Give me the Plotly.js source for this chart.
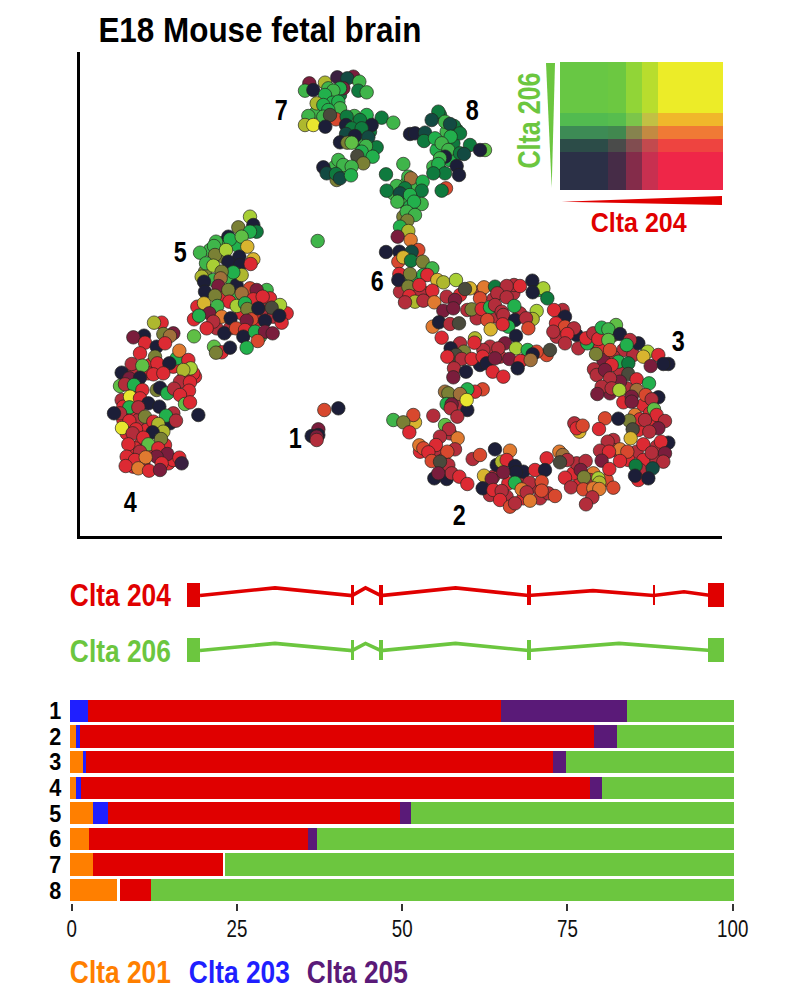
<!DOCTYPE html>
<html><head><meta charset="utf-8">
<script src="https://cdn.plot.ly/plotly-3.0.1.min.js"></script>
<style>html,body{margin:0;padding:0;background:#fff}</style></head>
<body><div id="chart" style="width:800px;height:999px"></div>
<script>
// ---- transcript usage (%) ----
const clusters = ["1","2","3","4","5","6","7","8"];
const clta201 = [0,0.93,1.9,0.93,3.5,2.8,3.5,7.1];
const gapA    = [0,0,0,0,0,0,0,0.45];
const clta203 = [2.7,0.5,0.5,0.67,2.15,0,0,0];
const clta204 = [62.2,77.5,70.3,76.7,44.05,33.1,19.6,4.65];
const clta205 = [19,3.5,2,1.8,1.6,1.3,0,0];
const gapB    = [0,0,0,0,0,0,0.3,0];
const clta206 = [16.1,17.57,25.3,19.9,48.7,62.8,76.6,87.8];
const barTicks = [0,25,50,75,100];

// ---- UMAP-like cell embedding, [x, y, colour key], read per region ----
const palette = {k:"#1c1e38",r:"#dc2a33",m:"#7a1d3c",c:"#b32d3b",G:"#22b04c",g:"#3fb54a",L:"#5fbf45",
  d:"#0f7a3e",t:"#134a42",o:"#7a8035",l:"#a8cf35",y:"#e8e62f",O:"#e07a30",R:"#d8482e",s:"#d8b42f",
  b:"#a0703a",n:"#4a4a3c",v:"#aeb82e",p:"#3a2040"};
const northUnder = [[215,110,"G"],[240,105,"d"],[200,125,"G"],[170,155,"g"],[280,185,"d"],[290,245,"d"],[300,235,"g"],[330,215,"d"],[320,180,"d"],[255,335,"g"],[225,320,"g"],[300,300,"d"],[330,270,"d"],[540,165,"d"],[590,210,"d"],[560,215,"g"],[530,270,"G"],[580,250,"d"],[520,320,"g"],[570,300,"G"],[540,330,"G"],[440,370,"g"],[470,385,"g"],[425,410,"g"],[400,400,"g"],[440,435,"g"],[430,470,"o"],[450,440,"G"]];
const north = [
[148,70,"m"],[195,68,"v"],[232,52,"p"],[280,50,"m"],[262,55,"t"],[298,65,"g"],[135,92,"g"],[250,85,"m"],[160,90,"k"],[240,85,"G"],[205,85,"g"],[220,92,"g"],[295,92,"d"],[320,97,"g"],[195,105,"G"],[170,130,"v"],[218,128,"G"],[235,125,"G"],[190,135,"G"],[240,145,"g"],[205,150,"G"],[145,168,"g"],[228,178,"R"],[190,170,"g"],[210,165,"n"],[135,195,"v"],[160,195,"y"],[196,200,"k"],
[283,168,"g"],[260,170,"d"],[320,165,"G"],[300,180,"d"],[365,173,"d"],[400,188,"g"],[258,195,"k"],[335,195,"k"],[275,205,"d"],[305,205,"d"],[258,222,"t"],[285,228,"k"],[325,232,"t"],[240,247,"k"],[262,248,"o"],[275,248,"L"],[350,262,"d"],[318,258,"g"],[305,275,"G"],[292,288,"n"],[338,290,"G"],[235,300,"g"],[310,310,"o"],[250,315,"g"],[275,320,"g"],[190,322,"k"],[200,340,"t"],[230,360,"o"],[228,342,"d"],[240,355,"t"],[273,346,"G"],
[535,155,"d"],[515,180,"t"],[582,198,"d"],[555,185,"g"],[570,192,"t"],[450,222,"k"],[465,220,"k"],[495,218,"t"],[600,220,"d"],[492,243,"d"],[525,235,"G"],[572,230,"G"],[545,250,"g"],[630,255,"d"],[565,270,"g"],[675,270,"L"],[660,270,"k"],[600,280,"d"],[612,282,"t"],[555,290,"k"],[540,295,"g"],[535,312,"G"],[590,318,"k"],[597,345,"k"],[555,340,"d"],[520,340,"d"],
[430,312,"g"],[378,343,"d"],[445,350,"g"],[453,355,"b"],[488,365,"G"],[410,378,"g"],[380,392,"d"],[435,385,"d"],[420,400,"t"],[485,392,"d"],[558,385,"R"],[545,392,"d"],[485,432,"g"],[412,425,"g"],[450,405,"G"],[462,425,"G"],[440,455,"g"],[465,465,"g"],[442,482,"o"],[420,500,"G"],[445,513,"v"],[413,530,"m"],[452,540,"O"],[378,576,"k"],[418,575,"k"],[475,570,"R"],[455,575,"t"],[415,605,"R"],[430,592,"s"],[453,602,"d"],[488,605,"o"],[517,625,"g"],
[173,543,"g"]
];
const westUnder = [[360,150,"g"],[395,130,"g"],[440,135,"G"],[400,170,"o"],[345,215,"o"],[370,240,"g"],[425,240,"g"],[440,255,"k"],[400,285,"r"],[430,295,"g"],[350,330,"c"],[380,385,"c"],[420,385,"c"],[455,340,"r"],[520,330,"c"],[550,350,"c"],[590,340,"r"],[510,410,"g"],[530,270,"g"],
[180,495,"r"],[175,520,"r"],[250,500,"r"],[125,520,"c"],[280,535,"r"],[315,530,"r"],[130,580,"r"],[95,600,"c"],[100,620,"r"],[130,645,"r"],[145,660,"c"],[250,640,"c"],[240,670,"k"],[100,660,"r"],[110,700,"r"],[170,690,"r"],[150,735,"r"],[225,735,"r"],[135,745,"r"],[235,790,"r"],[130,800,"r"],[160,790,"c"],[185,760,"c"],[250,780,"r"]];
const west = [
[480,50,"l"],[445,82,"o"],[490,75,"k"],[500,95,"d"],[480,95,"G"],[415,110,"k"],[420,118,"G"],[455,110,"L"],[378,125,"g"],[372,138,"g"],[330,158,"g"],[375,165,"o"],[408,150,"l"],[472,140,"s"],[490,178,"s"],[348,190,"g"],[448,170,"k"],[415,185,"k"],[450,195,"k"],[482,192,"r"],[370,197,"l"],[455,225,"v"],[430,217,"G"],[335,230,"v"],[395,215,"o"],[392,235,"b"],[342,245,"k"],[345,275,"k"],[385,258,"m"],[375,287,"o"],[415,270,"o"],[480,265,"R"],[455,280,"b"],[500,270,"m"],[490,298,"r"],[540,295,"r"],[518,290,"r"],[418,305,"r"],[440,318,"l"],[465,310,"G"],[472,327,"o"],[322,320,"r"],[342,310,"s"],[382,318,"g"],[358,340,"m"],[312,358,"r"],[327,347,"G"],[395,350,"O"],[422,355,"k"],[370,365,"c"],[350,385,"r"],[500,360,"r"],[485,358,"R"],[505,325,"k"],[570,315,"l"],[545,323,"n"],[470,362,"m"],[525,362,"k"],[575,368,"r"],[568,347,"k"],[403,400,"k"],[438,385,"R"],[465,390,"r"],[460,410,"k"],[495,395,"G"],[525,395,"m"],[548,400,"m"],[503,423,"R"],[312,409,"L"],[372,440,"L"],[395,457,"r"],[378,458,"o"],[420,443,"k"],[470,443,"G"],
[215,368,"r"],[192,368,"v"],[250,400,"m"],[220,402,"o"],[240,408,"b"],[162,407,"k"],[130,412,"m"],[165,428,"r"],[200,440,"k"],[225,430,"r"],[150,460,"r"],[195,470,"o"],[260,475,"G"],[268,452,"O"],[295,480,"r"],[125,492,"c"],[157,497,"L"],[202,490,"r"],[238,490,"k"],[190,523,"r"],[220,520,"r"],[95,518,"k"],[118,535,"m"],[150,533,"k"],[90,558,"L"],[105,553,"c"],[132,555,"G"],[310,520,"r"],[302,505,"l"],[280,510,"v"],[270,545,"c"],[300,547,"r"],[200,570,"o"],[210,563,"k"],[232,580,"G"],[252,566,"c"],[297,572,"r"],[270,585,"r"],[157,570,"r"],[120,590,"y"],[150,595,"r"],[118,622,"G"],[175,610,"k"],[145,622,"c"],[285,612,"L"],[300,607,"r"],[208,620,"k"],[90,640,"c"],[72,640,"k"],[228,647,"G"],[325,645,"k"],[165,650,"o"],[118,663,"r"],[190,665,"r"],[258,662,"c"],[205,672,"v"],[220,695,"v"],[96,684,"y"],[138,688,"r"],[128,700,"c"],[188,697,"k"],[160,713,"r"],[213,717,"o"],[175,733,"L"],[115,733,"r"],[205,745,"r"],[150,755,"c"],[232,762,"m"],[200,770,"m"],[110,770,"r"],[268,773,"r"],[275,790,"p"],[135,780,"r"],[167,772,"O"],[107,798,"r"],[145,805,"O"],[215,790,"r"],[177,812,"r"],[210,810,"m"],
[703,630,"R"],[745,625,"k"],[685,688,"m"],[665,708,"k"],[685,705,"k"],[680,710,"m"],[680,720,"c"]
];
const ringUnder = [[640,250,"c"],[660,265,"r"],[700,225,"n"],[730,270,"c"],[760,285,"c"],[700,290,"c"],[670,300,"m"],[720,330,"c"],[690,400,"m"],[740,385,"c"],[790,435,"r"],[765,465,"O"],[810,460,"r"],[820,490,"r"],[775,510,"r"],[700,540,"c"],[770,575,"c"],[830,560,"c"],[745,600,"r"],[790,600,"r"],[700,570,"c"],[830,600,"c"],[780,630,"c"],[640,640,"O"],[600,670,"r"],[630,660,"c"],[680,660,"R"],[580,640,"r"],[590,610,"c"],[340,650,"c"],[385,670,"r"],[420,660,"c"],[465,680,"c"],[430,715,"r"],[380,710,"c"],[330,705,"c"],[480,715,"c"],[350,615,"k"],[170,580,"c"],[120,575,"r"],[190,600,"r"],[185,630,"c"],[210,520,"c"],[235,430,"c"],[210,415,"n"],[240,105,"r"],[300,95,"c"],[340,118,"c"],[400,100,"c"],[350,170,"c"],[290,175,"c"],[200,110,"c"],[420,160,"c"],[330,260,"c"],[310,270,"c"],[240,250,"c"],[225,300,"c"],[300,315,"k"],[440,295,"c"],[500,285,"R"],[360,290,"c"],[530,230,"c"],[540,185,"c"],[590,225,"k"],[60,95,"c"],[110,105,"c"],[140,100,"R"],[95,60,"G"],[120,100,"c"]];
const ring = [
[58,42,"r"],[90,42,"o"],[130,45,"G"],[142,45,"r"],[172,60,"s"],[190,67,"v"],[228,60,"l"],[55,60,"k"],[85,80,"o"],[118,75,"r"],[157,92,"r"],[88,108,"r"],[105,125,"v"],[75,127,"c"],[130,122,"c"],[163,127,"O"],
[270,85,"s"],[255,87,"n"],[312,82,"O"],[345,80,"d"],[402,75,"c"],[380,78,"c"],[420,78,"r"],[475,90,"G"],[490,85,"l"],[457,62,"k"],[458,97,"k"],[502,115,"d"],[300,115,"R"],[352,100,"c"],[380,112,"c"],[403,138,"G"],[225,120,"m"],[190,152,"m"],[220,145,"m"],[262,150,"c"],[275,148,"o"],[305,147,"r"],[330,142,"G"],[345,135,"c"],[365,155,"c"],[370,165,"c"],[470,153,"l"],[458,177,"v"],[405,180,"k"],[438,175,"c"],[445,205,"R"],[322,180,"R"],[332,208,"s"],[385,200,"G"],[368,193,"r"],[158,200,"O"],[177,187,"k"],[210,192,"c"],[237,190,"n"],
[548,150,"c"],[522,150,"r"],[555,170,"k"],[528,190,"r"],[555,200,"R"],[520,215,"c"],[582,205,"c"],[562,222,"r"],[408,228,"k"],[285,235,"v"],[283,248,"r"],[375,250,"m"],[355,265,"c"],[408,265,"l"],[443,270,"G"],[470,275,"R"],[458,283,"k"],[510,270,"n"],[185,233,"r"],[212,265,"k"],[252,275,"o"],[228,285,"n"],[202,290,"r"],[245,297,"c"],[275,297,"r"],[308,290,"r"],[320,310,"k"],[345,295,"m"],[388,297,"m"],[422,303,"r"],[452,300,"b"],[413,325,"k"],[222,325,"c"],[258,335,"k"],[220,352,"m"],[338,335,"r"],[370,350,"r"],
[555,250,"c"],[595,265,"c"],[622,250,"G"],[618,235,"r"],[640,220,"c"],[655,237,"r"],[708,195,"L"],[665,203,"G"],[685,208,"g"],[720,222,"k"],[685,240,"L"],[648,282,"o"],[690,270,"R"],[775,250,"k"],[750,240,"c"],[740,255,"G"],[803,275,"l"],[790,290,"s"],[835,285,"r"],[865,312,"k"],[850,312,"k"],[812,318,"m"],[642,328,"c"],[650,345,"c"],[715,305,"G"],[745,310,"d"],[695,315,"r"],[675,330,"m"],[745,342,"n"],[720,365,"m"],[770,358,"r"],[690,355,"c"],[665,380,"c"],[652,402,"m"],[695,385,"c"],[770,390,"b"],[718,390,"l"],[807,370,"G"],[797,405,"R"],[835,412,"k"],[815,418,"c"],[730,427,"r"],[755,410,"m"],[755,425,"m"],
[822,448,"L"],[830,465,"r"],[780,478,"r"],[795,480,"c"],[855,483,"c"],[748,482,"o"],[675,475,"R"],[715,476,"k"],[835,505,"m"],[657,507,"r"],[758,508,"n"],[808,515,"c"],[752,535,"s"],[683,545,"c"],[865,548,"k"],[843,545,"r"],[790,553,"r"],[720,568,"O"],[742,575,"R"],[660,572,"c"],[687,575,"r"],[815,578,"c"],[855,580,"m"],[720,603,"r"],[850,605,"c"],[767,617,"d"],[818,625,"t"],[775,660,"r"],[765,647,"k"],[805,655,"k"],
[583,490,"c"],[598,515,"s"],[590,505,"r"],[608,497,"R"],
[538,575,"O"],[548,585,"b"],[562,600,"c"],[540,607,"n"],[617,603,"c"],[602,630,"m"],[612,652,"o"],[665,602,"m"],[688,627,"r"],[555,653,"r"],[573,682,"c"],[610,688,"R"],[655,655,"l"],[658,668,"v"],[640,685,"O"],[700,683,"R"],[658,687,"O"],[637,712,"c"],[618,733,"c"],
[390,572,"O"],[345,568,"k"],[365,605,"v"],[380,600,"r"],[500,595,"r"],[278,597,"c"],[300,585,"R"],[405,618,"k"],[430,635,"k"],[408,637,"k"],[465,630,"r"],[495,630,"k"],[312,647,"s"],[335,657,"m"],[370,637,"m"],[405,668,"G"],[448,668,"c"],[485,665,"R"],[425,688,"O"],[440,697,"c"],[505,700,"c"],[525,708,"R"],[485,692,"R"],[308,685,"k"],[340,690,"r"],[365,693,"c"],[360,720,"r"],[450,722,"O"],[390,740,"R"],[405,730,"c"],
[308,388,"R"],[285,395,"r"],[262,388,"G"],[195,395,"b"],[205,400,"o"],[240,402,"b"],[262,450,"k"],[260,420,"y"],[200,432,"G"],[215,433,"m"],[160,467,"c"],[212,445,"c"],[232,470,"c"],[40,480,"g"],[105,487,"s"],[100,465,"R"],[70,487,"o"],[88,517,"r"],[195,495,"L"],[207,507,"c"],[233,535,"O"],[180,530,"c"],[118,556,"O"],[130,565,"R"],[168,555,"r"],[145,577,"r"],[225,568,"c"],[202,575,"R"],[155,603,"R"],[205,615,"c"],[180,605,"n"],[163,655,"k"],[200,657,"k"],[215,640,"c"],[175,640,"m"],[238,650,"r"],[262,672,"r"]
];
// region crop origins (embedding units) and crop magnification of the reading
const northOrigin = [260,60], westOrigin = [90,200], ringOrigin = [380,260];
const readScale = 3;
const clusterNames = ["7","8","5","6","3","1","4","2"];
const clusterX = [281,472,180,377,678,295,130,459];
const clusterY = [110,110,252,280,340,437,501,514];

// ---- colour key (Clta 204 across, Clta 206 up) ----
const keyX = [560,608,626,642,658,723];
const keyY = [62,113,126,139,152,190];
const keyColours = [
 ["#68c744","#6cc841","#91d537","#b8dd2e","#ecec28"],
 ["#52bb50","#57bd4e","#7cc54a","#c2c044","#f0b72b"],
 ["#3d8b55","#41884f","#86834e","#c38a42","#f07a35"],
 ["#2c4c48","#4a4b4a","#814d50","#c24a4e","#ee4440"],
 ["#2b3047","#462c47","#842c4a","#c83050","#ef2648"]];

// ---- gene models ----
const intronX204 = [200,275,352,365.5,381,455.5,528.5,593,653.5,684,711];
const intronY204 = [0,0.14,0,0.14,0,0.14,0,0.09,0,0.07,0];
const exonStart204 = [186.7,350.5,378.5,527,652.5,708];
const exonEnd204   = [200,353.5,383,530.5,655,724];
const intronX206 = [200,275,352,365.5,381,455.5,528.5,619,711];
const intronY206 = [0,0.13,0,0.13,0,0.13,0,0.13,0];
const exonStart206 = [186.7,350.5,378.5,527,708];
const exonEnd206   = [200,353.5,383,530.5,724];

const RED="#e00000", GREEN="#6cc63f", ORANGE="#ff7f00", BLUE="#1f1fff", PURPLE="#5a1a78";
const FONT="'Liberation Sans',Arial,sans-serif";
const W=800,H=999;
const px=v=>v/W, py=v=>1-v/H;

const place=(list,o)=>list.map(p=>[o[0]+p[0]/readScale,o[1]+p[1]/readScale,p[2]]);
const allPts=[...place(northUnder,northOrigin),...place(north,northOrigin),
 ...place(westUnder,westOrigin),...place(west,westOrigin),
 ...place(ringUnder,ringOrigin),...place(ring,ringOrigin)];

const flat=keyColours.flat();
const scale=[];flat.forEach((c,i)=>{scale.push([i/flat.length,c]);scale.push([(i+1)/flat.length,c]);});
const keyZ=keyColours.map((row,r)=>row.map((_,c)=>r*row.length+c+0.5));

function bar(name,vals,color){return {type:"bar",orientation:"h",name,x:vals,y:clusters,xaxis:"x2",yaxis:"y2",
  marker:{color,line:{width:0}},hoverinfo:"x+name",showlegend:false};}
function exons(a,b,lane,color){return {type:"bar",xaxis:"x3",yaxis:"y3",showlegend:false,
  x:a.map((s,i)=>(s+b[i])/2),width:a.map((s,i)=>b[i]-s),
  y:a.map((s,i)=>((b[i]-s)>8?0.436:0.36)),
  base:a.map((s,i)=>lane+((b[i]-s)>8?-0.218:-0.18)),
  marker:{color,line:{width:0}}};}
function intron(x,y,lane,color){return {type:"scatter",mode:"lines",xaxis:"x3",yaxis:"y3",showlegend:false,
  x,y:y.map(v=>lane+v-0.01),line:{color,width:3.6}};}

const data=[
 {type:"scatter",mode:"markers",x:allPts.map(p=>p[0]),y:allPts.map(p=>p[1]),cliponaxis:false,showlegend:false,
  marker:{size:13.5,color:allPts.map(p=>palette[p[2]]),line:{color:"rgba(35,35,30,0.85)",width:0.8}}},
 {type:"heatmap",x:keyX,y:keyY,z:keyZ,xaxis:"x4",yaxis:"y4",colorscale:scale,zmin:0,zmax:flat.length,showscale:false,zsmooth:false},
 bar("Clta 201",clta201,ORANGE),bar("",gapA,"#fff"),bar("Clta 203",clta203,BLUE),bar("Clta 204",clta204,RED),
 bar("Clta 205",clta205,PURPLE),bar("",gapB,"#fff"),bar("Clta 206",clta206,GREEN),
 intron(intronX204,intronY204,1,RED),exons(exonStart204,exonEnd204,1,RED),
 intron(intronX206,intronY206,0,GREEN),exons(exonStart206,exonEnd206,0,GREEN)
];

const squeezeWidths=[];
function note(text,x,y,size,color,angle,wid){squeezeWidths.push(wid);return {text,xref:"paper",yref:"paper",x:px(x),y:py(y),
  xanchor:"center",yanchor:"middle",showarrow:false,textangle:angle||0,borderpad:0,font:{family:FONT,size,color,weight:700}};}
const annotations=[
 note("E18 Mouse fetal brain",259.5,30,35,"#000",0,323),
 note("Clta 206",529,121,31,GREEN,-90,96),
 note("Clta 204",639,223,28,RED,0,96),
 note("Clta 204",120,594.5,32,RED,0,101),
 note("Clta 206",120,651,32,GREEN,0,101),
 note("Clta 201",120.5,972,32,ORANGE,0,101),
 note("Clta 203",239.5,972,32,BLUE,0,101),
 note("Clta 205",357.5,972,32,PURPLE,0,101),
 ...clusterNames.map((n,i)=>note(n,clusterX[i],clusterY[i],30,"#000",0,13))
];
const shapes=[
 {type:"path",xref:"paper",yref:"paper",line:{width:0},fillcolor:GREEN,
  path:`M ${px(546)} ${py(63)} L ${px(555)} ${py(63)} L ${px(551.7)} ${py(188)} Z`},
 {type:"path",xref:"paper",yref:"paper",line:{width:0},fillcolor:RED,
  path:`M ${px(561.7)} ${py(201.7)} L ${px(722)} ${py(196)} L ${px(722)} ${py(205)} Z`}
];
const hidden={visible:false,showgrid:false,zeroline:false,fixedrange:true};
const layout={
 width:W,height:H,margin:{l:0,r:0,t:0,b:0},paper_bgcolor:"#fff",plot_bgcolor:"rgba(0,0,0,0)",
 barmode:"stack",bargap:0.13,annotations,shapes,showlegend:false,
 xaxis:{domain:[px(79.5),px(722)],range:[79.5,722],anchor:"y",showline:true,linecolor:"#000",linewidth:2.6,showticklabels:false,ticks:"",showgrid:false,zeroline:false},
 yaxis:{domain:[py(536),py(52)],range:[536,52],anchor:"x",showline:true,linecolor:"#000",linewidth:2.6,showticklabels:false,ticks:"",showgrid:false,zeroline:false},
 xaxis2:{domain:[px(70),px(735)],range:[0,100.15],anchor:"y2",tickvals:barTicks.map(v=>0.25+v*0.9955),ticktext:barTicks.map(String),ticks:"outside",ticklen:7,tickwidth:2,tickcolor:"#333",ticklabelstandoff:-3,
   showline:false,showgrid:false,zeroline:false,tickfont:{family:FONT,size:24,color:"#111"}},
 yaxis2:{domain:[py(903),py(698)],anchor:"x2",type:"category",categoryorder:"array",categoryarray:clusters,autorange:"reversed",dtick:1,
   showline:false,ticks:"outside",ticklen:3,tickcolor:"rgba(0,0,0,0)",showgrid:false,zeroline:false,tickfont:{family:FONT,size:24,color:"#000",weight:700}},
 xaxis3:Object.assign({domain:[0,1],range:[0,800],anchor:"y3"},hidden),
 yaxis3:Object.assign({domain:[py(677.5),py(567.5)],range:[-0.5,1.5],anchor:"x3"},hidden),
 xaxis4:Object.assign({domain:[px(560),px(723)],range:[560,723],anchor:"y4"},hidden),
 yaxis4:Object.assign({domain:[py(190),py(62)],range:[190,62],anchor:"x4"},hidden)
};
function condense(node,width){node.setAttribute("textLength",width);node.setAttribute("lengthAdjust","spacingAndGlyphs");}
Plotly.newPlot("chart",data,layout,{staticPlot:true,displayModeBar:false}).then(gd=>{
  gd.querySelectorAll(".annotation-text").forEach((t,i)=>condense(t,squeezeWidths[i]));
  gd.querySelectorAll(".x2tick text").forEach(t=>condense(t,t.getComputedTextLength()*0.78));
  gd.querySelectorAll(".y2tick text").forEach(t=>condense(t,t.getComputedTextLength()*0.9));
});
</script></body></html>
